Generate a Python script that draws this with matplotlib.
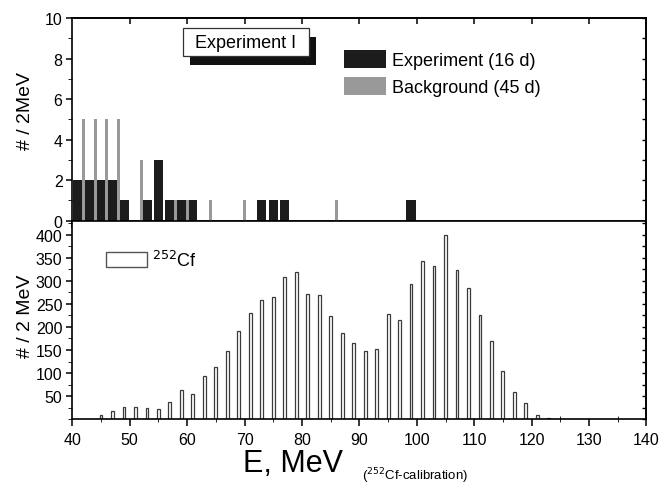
import matplotlib.pyplot as plt
from matplotlib.patches import Rectangle, Patch
from matplotlib.ticker import MultipleLocator

plt.rcParams['font.family'] = ['Liberation Sans', 'DejaVu Sans']

# experiment I (16 d), counts per 2 MeV
exp_e = [41, 43, 45, 47, 49, 53, 55, 57, 59, 61, 73, 75, 77, 99]
exp_n = [2, 2, 2, 2, 1, 1, 3, 1, 1, 1, 1, 1, 1, 1]

# background (45 d)
bg_e = [42, 44, 46, 48, 52, 58, 60, 64, 70, 86]
bg_n = [5, 5, 5, 5, 3, 1, 1, 1, 1, 1]

# 252Cf calibration spectrum
cf_e = [45, 47, 49, 51, 53, 55, 57, 59, 61, 63, 65, 67, 69, 71, 73, 75, 77, 79,
        81, 83, 85, 87, 89, 91, 93, 95, 97, 99, 101, 103, 105, 107, 109, 111,
        113, 115, 117, 119, 121, 123, 125, 127, 129]
cf_n = [10, 17, 26, 27, 24, 23, 37, 64, 55, 94, 114, 147, 192, 231, 258, 265,
        309, 319, 271, 269, 223, 187, 165, 147, 153, 229, 214, 294, 343, 333,
        399, 323, 284, 226, 170, 105, 59, 36, 10, 3, 1, 1, 1]

fig = plt.figure(figsize=(6.59, 4.89), dpi=100)
L, W = 0.1097, 0.8713
ax1 = fig.add_axes([L, 0.5466, W, 0.4145])
ax2 = fig.add_axes([L, 0.1405, W, 0.4061])

ax1.bar(exp_e, exp_n, width=1.6, color='#1c1c1c', zorder=2)
ax1.bar(bg_e, bg_n, width=0.55, color='#999999', zorder=3)
ax1.set_xlim(40, 140)
ax1.set_ylim(0, 10)
ax1.set_ylabel('# / 2MeV', fontsize=14)
ax1.yaxis.set_label_coords(-0.066, 0.546)

ax2.bar(cf_e, cf_n, width=0.5, facecolor='white', edgecolor='#3a3a3a',
        linewidth=0.9, zorder=2)
ax2.set_xlim(40, 140)
ax2.set_ylim(0, 430)
ax2.set_ylabel('# / 2 MeV', fontsize=14)
ax2.yaxis.set_label_coords(-0.066, 0.525)
ax2.set_xticks(range(40, 141, 10))
ax2.set_yticks(range(50, 401, 50))

for ax in (ax1, ax2):
    for s in ax.spines.values():
        s.set_linewidth(1.2)
    ax.xaxis.set_minor_locator(MultipleLocator(5))
    ax.tick_params(labelsize=11.5, width=1.1, pad=2.5)
    ax.tick_params(axis='y', which='major', direction='out', length=4.5, left=True, right=False)
    ax.tick_params(axis='y', which='minor', direction='out', length=3, left=True, right=False)

ax1.yaxis.set_major_locator(MultipleLocator(2))
ax1.yaxis.set_minor_locator(MultipleLocator(1))
ax2.yaxis.set_minor_locator(MultipleLocator(25))

ax1.tick_params(axis='x', which='major', direction='out', length=5, top=False, labelbottom=False)
ax1.tick_params(axis='x', which='minor', direction='out', length=3, top=False)
ax2.tick_params(axis='x', which='major', direction='out', length=5, top=False, pad=4)
ax2.tick_params(axis='x', which='minor', direction='inout', length=5, top=False)

top = ax1.secondary_xaxis('top')
top.set_xticks(range(50, 141, 10))
top.tick_params(direction='in', length=4, width=1.1, labeltop=False)
top.spines['top'].set_linewidth(1.2)

for ax, step in ((ax1, 1), (ax2, 25)):
    r = ax.secondary_yaxis('right')
    lo, hi = ax.get_ylim()
    r.set_yticks([step * i for i in range(int(lo / step), int(hi / step) + 1)])
    r.tick_params(direction='in', length=3, width=1.0, labelright=False)
    r.spines['right'].set_linewidth(1.2)

# legends
ax1.legend(handles=[Patch(facecolor='#1c1c1c', label='Experiment (16 d)'),
                    Patch(facecolor='#999999', label='Background (45 d)')],
           loc='upper left', bbox_to_anchor=(0.473, 0.84), frameon=False,
           fontsize=13, handlelength=2.35, handleheight=1.1,
           handletextpad=0.3, labelspacing=0.45, borderpad=0, borderaxespad=0)

ax2.legend(handles=[Patch(facecolor='white', edgecolor='#555555', label='$^{252}$Cf')],
           loc='upper left', bbox_to_anchor=(0.058, 0.855), frameon=False,
           fontsize=13, handlelength=2.3, handleheight=0.95,
           handletextpad=0.25, borderpad=0, borderaxespad=0)

# "Experiment I" box with shadow
bx, by, bw, bh = 0.1928, 0.8121, 0.2191, 0.1386
ax1.add_patch(Rectangle((bx + 0.012, by - 0.045), bw, bh, transform=ax1.transAxes,
                        facecolor='#111111', edgecolor='none', zorder=4))
ax1.add_patch(Rectangle((bx, by), bw, bh, transform=ax1.transAxes,
                        facecolor='white', edgecolor='#333333', linewidth=0.9, zorder=5))
ax1.text(bx + bw / 2, by + bh / 2, 'Experiment I', transform=ax1.transAxes,
         ha='center', va='center', fontsize=13, zorder=6)

fig.text(0.445, 0.035, 'E, MeV', ha='center', va='baseline', fontsize=22)
fig.text(0.549, 0.017, '($^{252}$Cf-calibration)', ha='left', va='baseline', fontsize=9.5)

fig.savefig('out.png', dpi=100)
